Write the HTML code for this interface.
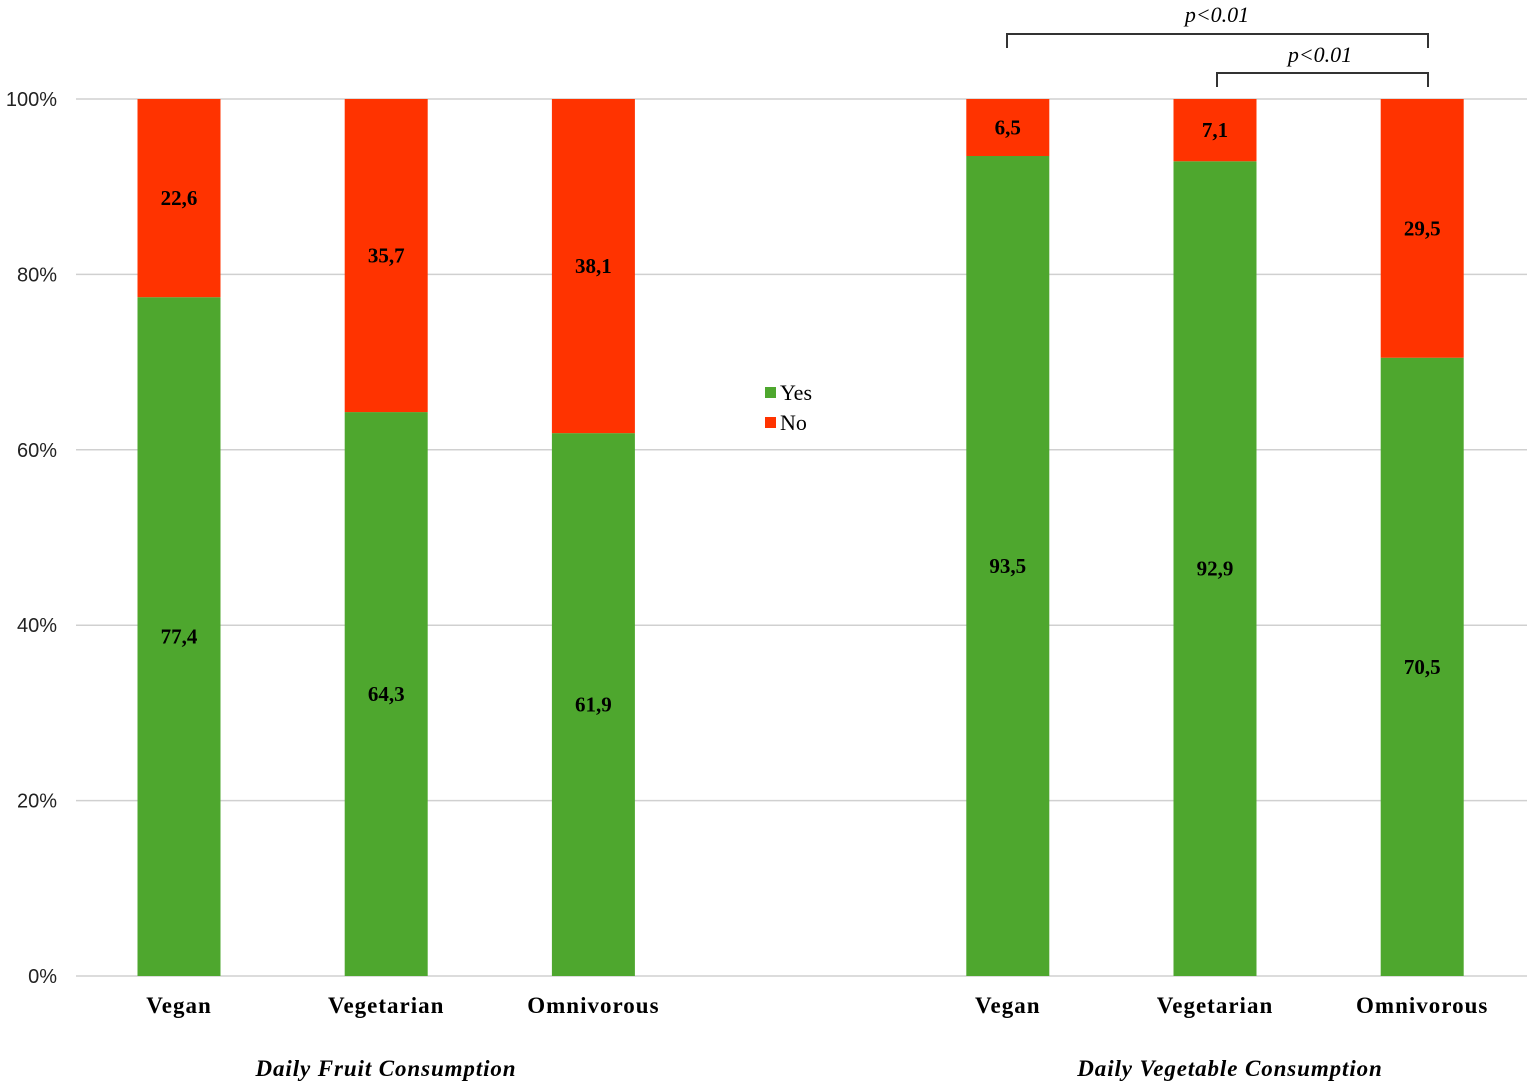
<!DOCTYPE html>
<html><head><meta charset="utf-8"><style>
body{margin:0;background:#fff}
svg{display:block}
</style></head><body>
<svg id="chart" width="1535" height="1090" xmlns="http://www.w3.org/2000/svg">
<g id="grid"></g>
<g id="yticks"></g>
<g id="bars"></g>
<g id="xlabels"></g>
<text x="386" y="1076" text-anchor="middle" font-family="Liberation Serif, serif" font-size="23" font-weight="bold" font-style="italic" letter-spacing="0.9">Daily Fruit Consumption</text>
<text x="1230" y="1076" text-anchor="middle" font-family="Liberation Serif, serif" font-size="23" font-weight="bold" font-style="italic" letter-spacing="0.9">Daily Vegetable Consumption</text>
<g font-family="Liberation Serif, serif" font-size="22">
<rect x="765" y="387" width="11" height="11" fill="#4ea72e"/>
<text x="780" y="400">Yes</text>
<rect x="765" y="417" width="11" height="11" fill="#ff3300"/>
<text x="780" y="430">No</text>
</g>
<g fill="none" stroke="#333" stroke-width="2">
<path d="M1007 48 V34 H1428 V48"/>
<path d="M1217 87 V73 H1428 V87"/>
</g>
<text x="1217" y="22" text-anchor="middle" font-family="Liberation Serif, serif" font-size="22" font-style="italic">p&lt;0.01</text>
<text x="1320" y="62" text-anchor="middle" font-family="Liberation Serif, serif" font-size="22" font-style="italic">p&lt;0.01</text>
</svg>
<script>
const categories=["Vegan","Vegetarian","Omnivorous","","Vegan","Vegetarian","Omnivorous"];
const yesValues=[77.4,64.3,61.9,null,93.5,92.9,70.5];
const noValues=[22.6,35.7,38.1,null,6.5,7.1,29.5];
const yesLabels=["77,4","64,3","61,9","","93,5","92,9","70,5"];
const noLabels=["22,6","35,7","38,1","","6,5","7,1","29,5"];
const yTicks=[0,20,40,60,80,100];
const NS="http://www.w3.org/2000/svg";
const y0=976,yTop=99;
function y(v){return y0-(v/100)*(y0-yTop);}
function xc(i){return 179+i*207.2;}
const bw=83;
function mk(tag,attrs,parent){const e=document.createElementNS(NS,tag);for(const k in attrs)e.setAttribute(k,attrs[k]);parent.appendChild(e);return e;}
const grid=document.getElementById('grid'),yt=document.getElementById('yticks'),bars=document.getElementById('bars'),xl=document.getElementById('xlabels');
yTicks.forEach(t=>{
 const l=mk('line',{x1:76,x2:1527,y1:y(t),y2:y(t),stroke:'#d0d0d0','stroke-width':1.5},grid);
 
 
 const tx=mk('text',{x:57,y:y(t)+7,'text-anchor':'end','font-family':'Liberation Sans, sans-serif','font-size':20,fill:'#222'},yt);
 tx.textContent=t+'%';
 
 
});
categories.forEach((c,i)=>{
 if(yesValues[i]==null)return;
 const x=xc(i)-bw/2;
 const g=mk('rect',{x:x,y:y(yesValues[i]),width:bw,height:y0-y(yesValues[i]),fill:'#4ea72e'},bars);
 
 
 const r=mk('rect',{x:x,y:y(yesValues[i]+noValues[i]),width:bw,height:y(yesValues[i])-y(yesValues[i]+noValues[i]),fill:'#ff3300'},bars);
 
 
 const ty=mk('text',{x:xc(i),y:(y(yesValues[i])+y0)/2+7,'text-anchor':'middle','font-family':'Liberation Serif, serif','font-size':21,'font-weight':'bold'},bars);
 ty.textContent=yesLabels[i];
 
 
 const tn=mk('text',{x:xc(i),y:(y(yesValues[i])+y(yesValues[i]+noValues[i]))/2+7,'text-anchor':'middle','font-family':'Liberation Serif, serif','font-size':21,'font-weight':'bold'},bars);
 tn.textContent=noLabels[i];
 
 
 const cl=mk('text',{x:xc(i),y:1013,'text-anchor':'middle','font-family':'Liberation Serif, serif','font-size':23,'font-weight':'bold','letter-spacing':1},xl);
 cl.textContent=c;
 
 
});
</script>
</body></html>
